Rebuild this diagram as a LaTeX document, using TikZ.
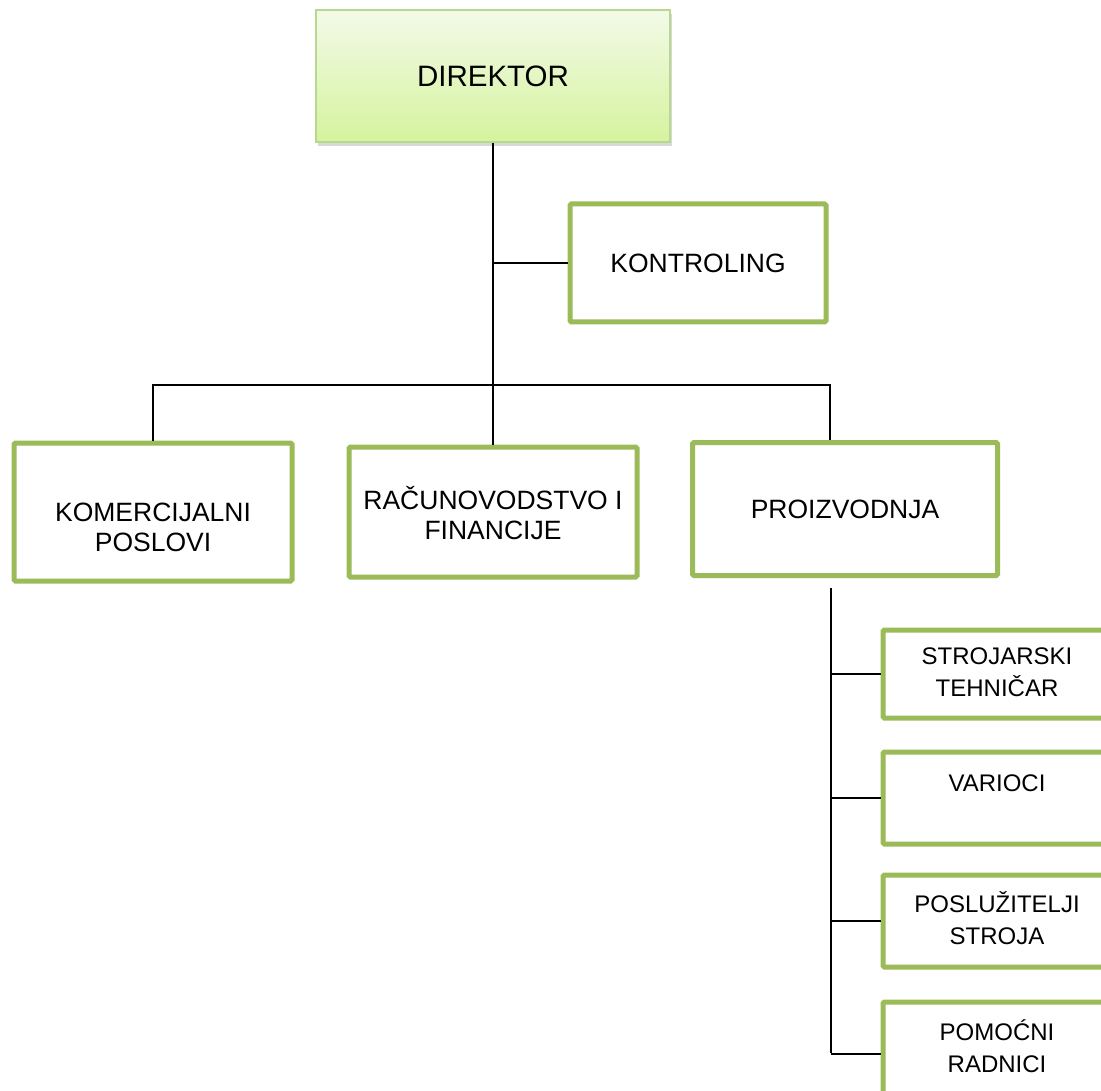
\documentclass[tikz,border=0pt]{standalone}
\usepackage{fontspec}
\setmainfont{Liberation Sans}
\usetikzlibrary{shadows}
\definecolor{boxgreen}{HTML}{9BBB59}
\definecolor{dirtop}{HTML}{F3FAE8}
\definecolor{dirbot}{HTML}{D5F39E}
\definecolor{dirline}{HTML}{B7D88E}
\begin{document}
\begin{tikzpicture}[x=1pt,y=-1pt,
  box/.style={draw=boxgreen,line width=5pt,fill=white,rounded corners=1.5pt,inner sep=0pt},
  txt/.style={align=center,font=\fontsize{26.5}{30}\selectfont,inner sep=0pt},
  stxt/.style={align=center,font=\fontsize{24}{31.5}\selectfont,inner sep=0pt},
  conn/.style={draw=black,line width=2pt}]
\useasboundingbox (0,0) rectangle (1101,1091);
% director
\node[draw=dirline,line width=1.5pt,top color=dirtop,bottom color=dirbot,
  drop shadow={shadow xshift=2pt,shadow yshift=-4pt,fill=black!30},
  minimum width=354pt,minimum height=132pt,inner sep=0pt,
  font=\fontsize{29.5}{34}\selectfont] (dir) at (493,76) {DIREKTOR};
% boxes
\node[box,minimum width=256pt,minimum height=118pt] (kon) at (698,263) {};
\node[txt] at (kon) {KONTROLING};
\node[box,minimum width=278pt,minimum height=138pt] (kom) at (153,512) {};
\node[txt] at ([yshift=-15pt]kom.center) {KOMERCIJALNI\\POSLOVI};
\node[box,minimum width=288pt,minimum height=130pt] (rac) at (493,512) {};
\node[txt] at ([yshift=-1pt]rac.center) {RAČUNOVODSTVO I\\FINANCIJE};
\node[box,minimum width=305pt,minimum height=133pt] (pro) at (845,509) {};
\node[txt] at (pro) {PROIZVODNJA};
\node[box,minimum width=228pt,minimum height=88pt] (str) at (997,674) {};
\node[stxt] at ([yshift=2pt]str.center) {STROJARSKI\\TEHNIČAR};
\node[box,minimum width=228pt,minimum height=92pt] (var) at (997,798) {};
\node[stxt] at ([yshift=15pt]var.center) {VARIOCI};
\node[box,minimum width=228pt,minimum height=92pt] (pos) at (997,921) {};
\node[stxt] at ([yshift=3pt]pos.center) {POSLUŽITELJI\\STROJA};
\node[box,minimum width=228pt,minimum height=104pt] (pom) at (997,1054) {};
\node[stxt] at ([yshift=8pt]pom.center) {POMOĆNI\\RADNICI};
% connectors
\coordinate (bus) at (493,385);
\coordinate (busL) at (153,385);
\coordinate (busR) at (830,385);
\coordinate (ptop) at (831,588);
\coordinate (pbot) at (831,1053);
\draw[conn] (dir.south) -- (bus);
\draw[conn] (dir.south |- kon.west) -- (kon.west);
\draw[conn,line cap=rect] (busL) -- (busR);
\draw[conn] (busL) -- (kom.north);
\draw[conn] (bus) -- (rac.north);
\draw[conn] (busR) -- (pro.north -| busR);
\draw[conn] (ptop) -- (pbot);
\draw[conn] (ptop |- str.west) -- (str.west);
\draw[conn] (ptop |- var.west) -- (var.west);
\draw[conn] (ptop |- pos.west) -- (pos.west);
\draw[conn] (ptop |- pom.west) -- (pom.west);
\end{tikzpicture}
\end{document}
